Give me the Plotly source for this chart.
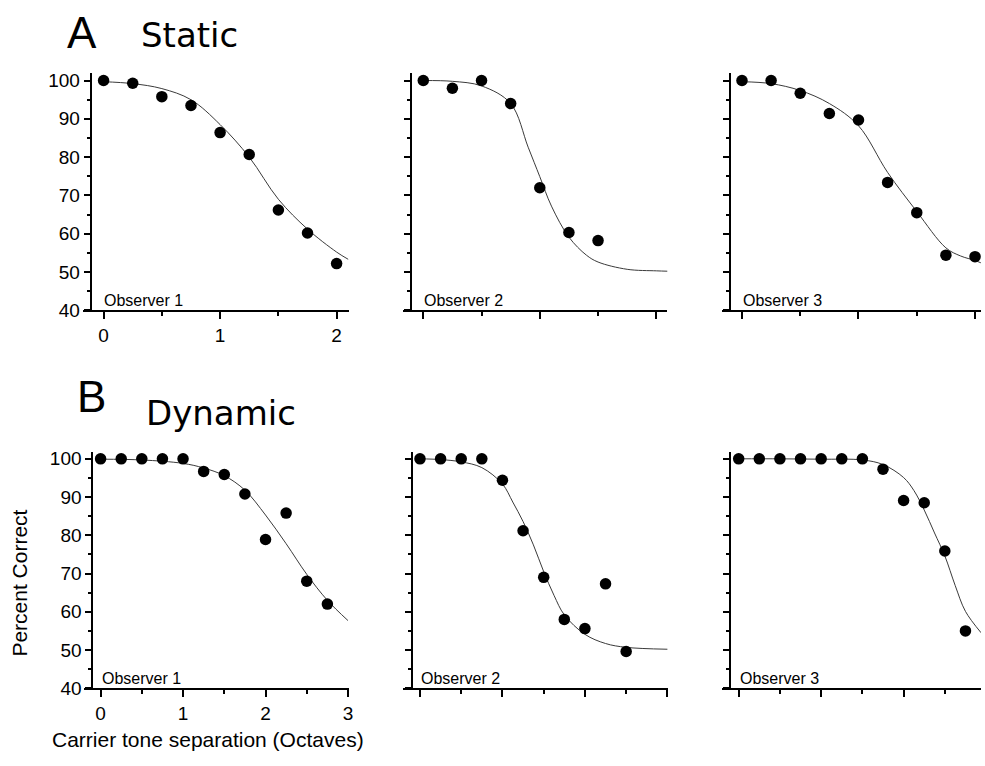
import plotly.graph_objects as go

# ---------------- data ----------------
sep_A1 = [0, 0.25, 0.5, 0.75, 1.0, 1.25, 1.5, 1.75, 2.0]
pc_A1 = [100, 99.3, 95.8, 93.5, 86.4, 80.7, 66.2, 60.2, 52.2]
fit_x_A1 = [0, 0.25, 0.5, 0.75, 1.0, 1.25, 1.5, 1.75, 2.0, 2.1]
fit_y_A1 = [99.7, 99.2, 97.9, 95.0, 88.5, 80.0, 69.0, 61.2, 55.2, 53.3]

sep_A2 = [0, 0.25, 0.5, 0.75, 1.0, 1.25, 1.5]
pc_A2 = [100, 98.0, 100, 94.0, 72.0, 60.3, 58.2]
fit_x_A2 = [0, 0.25, 0.5, 0.75, 0.9, 1.0, 1.1, 1.25, 1.4, 1.5, 1.75, 2.0, 2.1]
fit_y_A2 = [100, 99.8, 98.6, 94.0, 82.6, 74.9, 67.2, 59.1, 54.4, 52.6, 50.7, 50.3, 50.2]

sep_A3 = [0, 0.25, 0.5, 0.75, 1.0, 1.25, 1.5, 1.75, 2.0]
pc_A3 = [100, 100, 96.7, 91.4, 89.7, 73.4, 65.5, 54.4, 54.0]
fit_x_A3 = [0, 0.25, 0.5, 0.75, 1.0, 1.25, 1.5, 1.75, 1.875, 2.0, 2.05]
fit_y_A3 = [99.7, 99.2, 97.4, 94.0, 88.2, 76.0, 65.8, 56.3, 54.2, 53.0, 52.4]

sep_B1 = [0, 0.25, 0.5, 0.75, 1.0, 1.25, 1.5, 1.75, 2.0, 2.25, 2.5, 2.75]
pc_B1 = [100, 100, 100, 100, 100, 96.7, 95.9, 90.8, 78.9, 85.8, 68.0, 62.0]
fit_x_B1 = [0, 0.5, 1.0, 1.25, 1.5, 1.75, 2.0, 2.25, 2.5, 2.75, 3.0]
fit_y_B1 = [99.9, 99.7, 98.8, 97.6, 95.6, 91.8, 85.3, 77.8, 69.8, 63.0, 57.7]

sep_B2 = [0, 0.25, 0.5, 0.75, 1.0, 1.25, 1.5, 1.75, 2.0, 2.25, 2.5]
pc_B2 = [100, 100, 100, 100, 94.4, 81.2, 69.0, 58.0, 55.6, 67.3, 49.6]
fit_x_B2 = [0, 0.25, 0.5, 0.75, 1.0, 1.125, 1.25, 1.375, 1.5, 1.625, 1.75, 2.0, 2.25, 2.5, 3.0]
fit_y_B2 = [100, 99.8, 99.2, 97.7, 93.4, 88.7, 83.6, 77.5, 70.5, 64.3, 59.2, 54.1, 51.7, 50.7, 50.2]

sep_B3 = [0, 0.25, 0.5, 0.75, 1.0, 1.25, 1.5, 1.75, 2.0, 2.25, 2.5, 2.75]
pc_B3 = [100, 100, 100, 100, 100, 100, 100, 97.3, 89.1, 88.5, 75.9, 55.0]
fit_x_B3 = [0, 0.5, 1.0, 1.5, 1.75, 2.0, 2.125, 2.25, 2.375, 2.5, 2.625, 2.75, 2.94]
fit_y_B3 = [100, 100, 99.9, 99.7, 98.5, 95.1, 91.7, 86.6, 80.6, 74.6, 66.9, 60.1, 54.5]

observers = ["Observer 1", "Observer 2", "Observer 3"]

series = [
    (sep_A1, pc_A1, fit_x_A1, fit_y_A1),
    (sep_A2, pc_A2, fit_x_A2, fit_y_A2),
    (sep_A3, pc_A3, fit_x_A3, fit_y_A3),
    (sep_B1, pc_B1, fit_x_B1, fit_y_B1),
    (sep_B2, pc_B2, fit_x_B2, fit_y_B2),
    (sep_B3, pc_B3, fit_x_B3, fit_y_B3),
]

# ---------------- layout geometry (pixels) ----------------
W, H = 985, 766
# per panel: x-line left, x-line right, y-axis x, pixel of x=0, px per unit, row
geom = [
    (83, 350, 91, 104, 117.0, "A"),
    (405, 670, 413, 425, 117.0, "A"),
    (725, 985, 733, 745, 117.0, "A"),
    (84, 350.5, 92.7, 101, 82.8, "B"),
    (405, 671, 413.3, 421.7, 82.8, "B"),
    (725, 985, 733.3, 741.7, 82.8, "B"),
]
rows = {"A": (71.5, 313.0, 3.9), "B": (457.0, 698.0, 3.895)}

fig = go.Figure()
font_arial = "Liberation Sans, Arial, sans-serif"
font_wide = "DejaVu Sans, sans-serif"

annotations = []
for i, ((sx, sy, fx, fy), (L, R, yx, p0, s, row)) in enumerate(zip(series, geom)):
    n = "" if i == 0 else str(i + 1)
    xa, ya = "x" + n, "y" + n
    top, bot, sy_px = rows[row]
    fig.add_trace(go.Scatter(x=fx, y=fy, mode="lines", xaxis=xa, yaxis=ya,
                             line=dict(color="#3a3a3a", width=1, shape="spline", smoothing=1.0),
                             hoverinfo="skip", showlegend=False))
    fig.add_trace(go.Scatter(x=sx, y=sy, mode="markers", xaxis=xa, yaxis=ya,
                             marker=dict(color="black", size=11.5), cliponaxis=False,
                             showlegend=False))
    show_lbl = (i % 3 == 0)
    xr = [(L - p0) / s, (R - p0) / s]
    yr = [40, 40 + (bot - top) / sy_px]
    fig.layout["xaxis" + n] = dict(
        domain=[L / W, R / W], anchor=ya, range=xr,
        showline=True, linewidth=2, linecolor="black",
        ticks="outside", ticklen=7, tickwidth=1.5, tickcolor="black",
        tickmode="linear", tick0=0, dtick=1, showticklabels=show_lbl,
        tickfont=dict(family=font_arial, size=19, color="black"),
        minor=dict(ticks="outside", ticklen=4, tickwidth=1.5, tickcolor="black",
                   tickmode="linear", dtick=0.5, tick0=0, showgrid=False),
        showgrid=False, zeroline=False, fixedrange=True)
    fig.layout["yaxis" + n] = dict(
        domain=[1 - bot / H, 1 - top / H], anchor="free", position=yx / W, range=yr,
        showline=True, linewidth=2, linecolor="black",
        ticks="outside", ticklen=6, tickwidth=1.5, tickcolor="black",
        tickmode="linear", tick0=0, dtick=10, showticklabels=show_lbl,
        tickfont=dict(family=font_arial, size=19, color="black"),
        minor=dict(ticks="outside", ticklen=3, tickwidth=1.5, tickcolor="black",
                   tickmode="linear", dtick=5, tick0=0, showgrid=False),
        showgrid=False, zeroline=False, fixedrange=True)
    annotations.append(dict(text=observers[i % 3], xref=xa, yref=ya, x=-0.01, y=40,
                            xanchor="left", yanchor="bottom", yshift=-1, showarrow=False,
                            font=dict(family=font_arial, size=16, color="black")))

annotations += [
    dict(text="A", xref="paper", yref="paper", x=65 / W, y=1 - 30 / H, xanchor="left", yanchor="middle",
         showarrow=False, font=dict(family=font_arial, size=44, color="black")),
    dict(text="Static", xref="paper", yref="paper", x=140 / W, y=1 - 33 / H, xanchor="left", yanchor="middle",
         showarrow=False, font=dict(family=font_wide, size=34, color="black")),
    dict(text="B", xref="paper", yref="paper", x=75 / W, y=1 - 401 / H, xanchor="left", yanchor="middle",
         showarrow=False, font=dict(family=font_arial, size=44, color="black")),
    dict(text="Dynamic", xref="paper", yref="paper", x=145 / W, y=1 - 418 / H, xanchor="left", yanchor="middle",
         showarrow=False, font=dict(family=font_wide, size=34, color="black")),
    dict(text="Percent Correct", xref="paper", yref="paper", x=19.5 / W, y=1 - 591 / H, xanchor="center",
         yanchor="middle", textangle=-90, showarrow=False, font=dict(family=font_arial, size=21, color="black")),
    dict(text="Carrier tone separation (Octaves)", xref="paper", yref="paper", x=50 / W, y=1 - 750 / H,
         xanchor="left", yanchor="middle", showarrow=False, font=dict(family=font_arial, size=21, color="black")),
]

fig.update_layout(width=W, height=H, margin=dict(l=0, r=0, t=0, b=0),
                  paper_bgcolor="white", plot_bgcolor="white",
                  annotations=annotations, showlegend=False)

fig.write_html("out.html")
